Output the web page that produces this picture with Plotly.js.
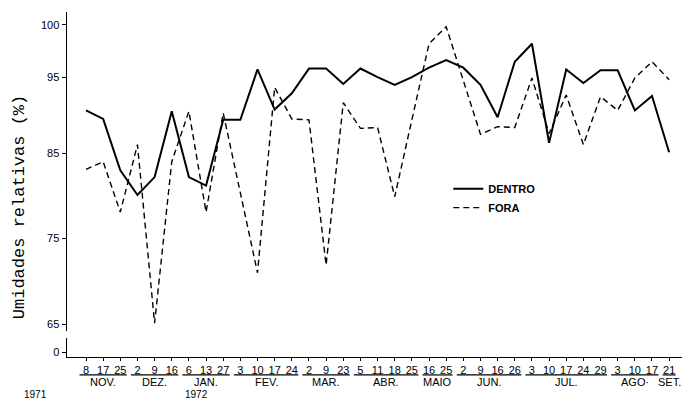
<!DOCTYPE html>
<html>
<head>
<meta charset="utf-8">
<script src="https://cdn.plot.ly/plotly-3.0.1.min.js"></script>
<style>html,body{margin:0;padding:0;background:#fff;}#chart{width:692px;height:400px;}</style>
</head>
<body>
<div id="chart"></div>
<script>
// Day labels for each sampling date (one per point)
const days = ['8','17','25','2','9','16','6','13','27','3','10','17','24','2','9','23','5','11','18','25','16','25','2','9','16','26','3','10','17','24','29','3','10','17','21'];
// Month groups and how many dates each covers
const months = ['NOV.','DEZ.','JAN.','FEV.','MAR.','ABR.','MAIO','JUN.','JUL.','AGO·','SET.'];
const monthCounts = [3,3,3,4,3,4,2,4,5,3,1];
// Years printed under the axis
const years = ['1971','1972'];

// Relative humidity (%) inside and outside
const dentro = [90.0,89.0,83.0,80.1,82.2,89.9,82.2,81.2,88.9,88.9,94.8,90.1,92.0,94.9,94.9,93.1,94.9,93.9,93.0,93.9,95.0,95.9,95.0,93.0,89.2,95.7,97.8,86.2,94.8,93.2,94.7,94.7,90.0,91.7,85.1];
const fora   = [83.1,84.0,78.1,86.0,65.1,84.0,89.9,78.1,89.7,80.3,71.0,92.7,89.0,88.9,71.9,90.9,87.9,88.0,79.9,88.9,97.8,99.8,93.6,87.2,88.1,88.0,93.8,87.3,91.8,86.0,91.6,90.0,93.8,95.7,93.6];

// Y tick labels as printed on the original axis (broken axis with a 0 below 65)
const yTickText = ['0','65','75','85','95','100'];
const yTickVals = [61.72,65,75,85,93.9,100];

const idx = days.map((_, i) => i);

const traces = [
  {x: idx, y: dentro, name: 'DENTRO', mode: 'lines', type: 'scatter',
   line: {color: '#000', width: 2}},
  {x: idx, y: fora, name: 'FORA', mode: 'lines', type: 'scatter',
   line: {color: '#000', width: 1.4, dash: '6px,4px'}}
];

const shapes = [];
const annotations = [];
let start = 0;
months.forEach((m, k) => {
  const n = monthCounts[k];
  const a = start, b = start + n - 1;
  shapes.push({type: 'line', xref: 'x', yref: 'paper', x0: a - 0.38, x1: b + 0.38,
    y0: -0.052, y1: -0.052, line: {color: '#000', width: 1.2}});
  annotations.push({xref: 'x', yref: 'paper', x: (a + b) / 2, y: -0.072, text: m,
    showarrow: false, yanchor: 'middle', xanchor: 'center',
    font: {family: 'Liberation Sans, Arial, sans-serif', size: 11, color: '#000'}});
  start += n;
});
const yearX = [-0.052, 0.21];
years.forEach((yr, k) => {
  annotations.push({xref: 'paper', yref: 'paper', x: yearX[k], y: -0.109, text: yr,
    showarrow: false, yanchor: 'middle', xanchor: 'center',
    font: {family: 'Liberation Sans, Arial, sans-serif', size: 10, color: '#000'}});
});
annotations.push({xref: 'paper', yref: 'paper', x: -0.076, y: 0.435,
  text: 'Umidades relativas (%)', textangle: -90, showarrow: false,
  xanchor: 'center', yanchor: 'middle',
  font: {family: 'Liberation Mono, DejaVu Sans Mono, monospace', size: 17, color: '#000'}});
// small axis break mark
shapes.push({type: 'rect', xref: 'paper', yref: 'paper', x0: -0.006, x1: 0.006,
  y0: 0.055, y1: 0.075, fillcolor: '#fff', line: {width: 0}});

const layout = {
  width: 692, height: 400,
  margin: {l: 67, r: 10, t: 12, b: 43},
  paper_bgcolor: '#fff', plot_bgcolor: '#fff',
  showlegend: true,
  legend: {x: 0.62, y: 0.53, xanchor: 'left', yanchor: 'top', bgcolor: 'rgba(0,0,0,0)',
    font: {family: 'Liberation Sans, Arial, sans-serif', size: 11, color: '#000', weight: 'bold'},
    tracegroupgap: 4},
  xaxis: {range: [-1.108, 34.75], tickmode: 'array', tickvals: idx, ticktext: days,
    showgrid: false, zeroline: false, showline: true, linecolor: '#000', linewidth: 1.2,
    ticks: 'outside', ticklen: 3, tickcolor: '#000', tickangle: 0,
    tickfont: {family: 'Liberation Sans, Arial, sans-serif', size: 11, color: '#000'}},
  yaxis: {range: [61.14, 101.52], tickmode: 'array', tickvals: yTickVals, ticktext: yTickText,
    showgrid: false, zeroline: false, showline: true, linecolor: '#000', linewidth: 1.5,
    ticks: 'outside', ticklen: 4, tickcolor: '#000',
    tickfont: {family: 'Liberation Sans, Arial, sans-serif', size: 11, color: '#000'}},
  shapes: shapes,
  annotations: annotations
};

Plotly.newPlot('chart', traces, layout, {staticPlot: true, displayModeBar: false});
</script>
</body>
</html>
